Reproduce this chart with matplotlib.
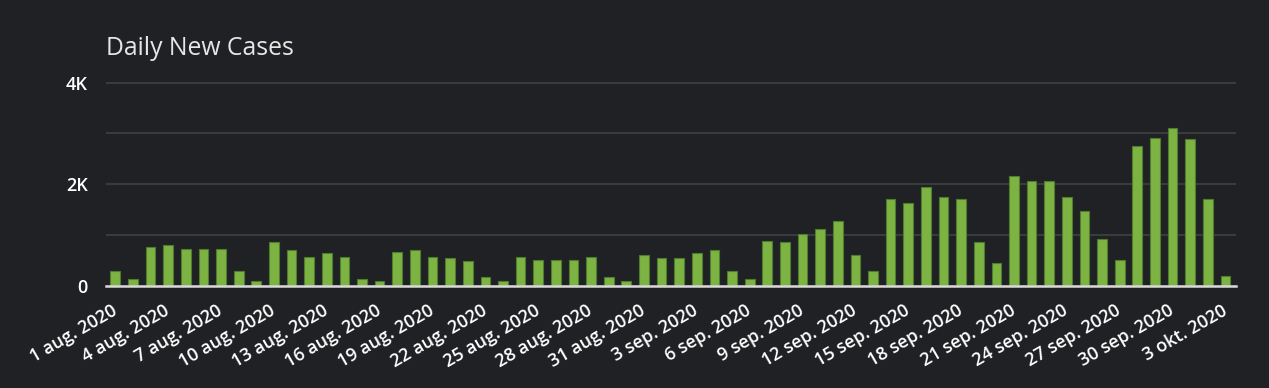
import pandas as pd
import matplotlib.pyplot as plt
from matplotlib.ticker import FixedLocator, FuncFormatter

plt.rcParams['font.family'] = ['Open Sans', 'DejaVu Sans']

# daily new cases, 1 aug 2020 - 3 okt 2020
dagen = pd.date_range('2020-08-01', '2020-10-03', freq='D')
maanden = {8: 'aug.', 9: 'sep.', 10: 'okt.'}
labels = [f"{d.day} {maanden[d.month]} {d.year}" for d in dagen]

cases = [296, 138, 769, 802, 736, 736, 736, 296, 105, 861,
         703, 578, 644, 578, 138, 105, 677, 703, 578, 545,
         486, 171, 105, 578, 519, 519, 519, 578, 171, 105,
         611, 545, 545, 644, 703, 296, 138, 894, 861, 1018,
         1117, 1268, 611, 296, 1715, 1623, 1938, 1748, 1715, 861,
         453, 2155, 2063, 2063, 1748, 1465, 926, 519, 2753, 2911,
         3101, 2884, 1715, 197]

bg = '#202124'
fig = plt.figure(figsize=(12.69, 3.88), dpi=100, facecolor=bg)
ax = fig.add_axes([106 / 1269, 102 / 388, 1130 / 1269, 205 / 388])
ax.set_facecolor(bg)

x = list(range(len(cases)))
ax.bar(x, cases, width=0.55, color='#7cb342', edgecolor='#4f7d2e', linewidth=0.8, zorder=3)

ax.set_xlim(-0.53, len(cases) - 0.4)
ax.set_ylim(0, 4030)

ax.yaxis.set_major_locator(FixedLocator([0, 2000, 4000]))
ax.yaxis.set_minor_locator(FixedLocator([1000, 3000]))
ax.yaxis.set_major_formatter(FuncFormatter(lambda v, p: '0' if v == 0 else f'{int(v/1000)}K'))
ax.grid(axis='y', which='both', color='#3a3b3e', linewidth=1.5, zorder=0)

ax.set_xticks(x[::3])
ax.set_xticklabels(labels[::3], rotation=30, ha='right', va='center',
                   rotation_mode='anchor', fontweight='semibold')
for t in ax.get_yticklabels():
    t.set_fontweight('semibold')

ax.tick_params(axis='y', which='both', length=0, pad=13, labelsize=13, colors='white')
ax.tick_params(axis='x', length=0, pad=17, labelsize=13, colors='white')

for s in ['top', 'right', 'left']:
    ax.spines[s].set_visible(False)
ax.spines['bottom'].set_color('#d9d9d9')
ax.spines['bottom'].set_linewidth(1.8)
ax.spines['bottom'].set_zorder(4)

fig.text(106 / 1269, (388 - 55) / 388, 'Daily New Cases', color='#e6e6e6',
         fontsize=17.8, va='baseline', ha='left')

fig.savefig('out.png', dpi=100, facecolor=bg)
